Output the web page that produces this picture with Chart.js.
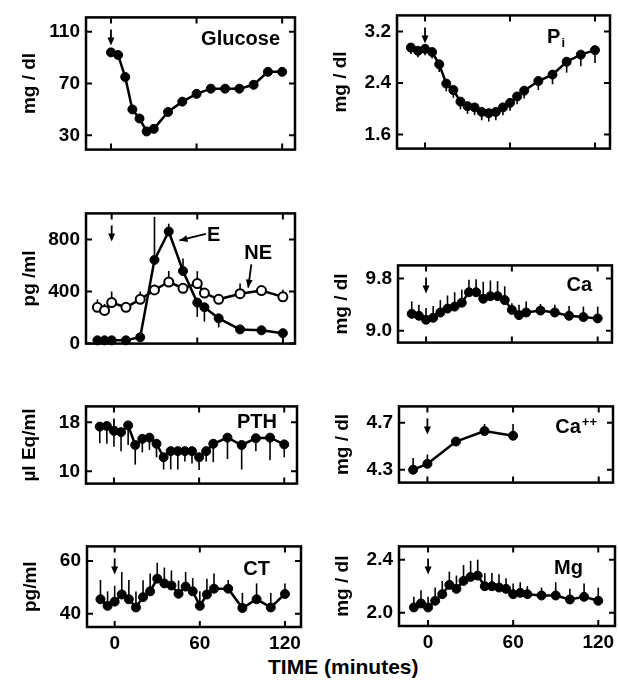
<!DOCTYPE html>
<html>
<head>
<meta charset="utf-8">
<title>Plasma responses</title>
<script src="https://cdn.jsdelivr.net/npm/chart.js@4.4.1/dist/chart.umd.min.js"></script>
<style>
  body { margin: 0; background: #fff; }
  #wrap { position: relative; width: 618px; height: 685px; overflow: hidden; }
  #wrap canvas { position: absolute; }
  #timeLabel { position: absolute; left: 268px; top: 655px; font: bold 21px "Liberation Sans", sans-serif; color: #000; white-space: nowrap; }
</style>
</head>
<body>
<div id="wrap">
  <div id="timeLabel">TIME (minutes)</div>
</div>
<script>
// sampling times (minutes)
const timeFull = [-10, -5, 0, 5, 10, 15, 20, 25, 30, 35, 40, 45, 50, 55, 60, 65, 70, 80, 90, 100, 110, 120];
const timeGlucose = [0, 5, 10, 15, 20, 25, 30, 40, 50, 60, 70, 80, 90, 100, 110, 120];
const timeCatechol = [-10, -5, 0, 10, 20, 30, 40, 50, 60, 65, 75, 90, 105, 120];
const timeCaIon = [-10, 0, 20, 40, 60];
const xTicks = [0, 60, 120];

// means and error bars (signed: + up, - down)
const glucose = [94, 92, 75, 50, 43, 33, 35, 48, 56, 62, 66, 66, 66, 69, 79, 79];
const glucoseErr = [0, 0, -2, -2, -2, -3, -3, -3, -2, -2, -2, -2, -3, -3, -2, -2];
const glucoseTicks = [30, 70, 110];

const pi = [2.95, 2.90, 2.93, 2.88, 2.69, 2.39, 2.29, 2.11, 2.04, 2.02, 1.95, 1.93, 1.95, 2.02, 2.09, 2.19, 2.28, 2.43, 2.53, 2.73, 2.84, 2.91];
const piErr = [-0.1, -0.1, -0.1, -0.1, -0.12, -0.12, -0.12, -0.12, -0.12, -0.12, -0.13, -0.13, -0.13, -0.12, -0.12, -0.12, -0.12, -0.14, -0.15, -0.17, -0.18, -0.2];
const piTicks = [1.6, 2.4, 3.2];

const epi = [25, 25, 25, 25, 49, 643, 861, 558, 315, 279, 194, 109, 102, 80];
const epiErr = [0, 0, 0, 0, 0, 330, 60, 95, -110, -110, -70, 0, 0, -70];
const norepi = [279, 255, 315, 279, 340, 412, 473, 425, 461, 388, 340, 383, 407, 359];
const norepiErr = [60, 50, 85, 0, 60, 40, 85, 0, 95, 0, 0, 78, 0, 54];
const catecholTicks = [0, 400, 800];

const ca = [9.26, 9.23, 9.17, 9.20, 9.28, 9.34, 9.37, 9.43, 9.59, 9.59, 9.49, 9.53, 9.53, 9.47, 9.32, 9.24, 9.28, 9.31, 9.28, 9.23, 9.21, 9.19];
const caErr = [0.19, 0.17, 0.18, 0.18, 0.19, 0.2, 0.22, 0.2, 0.19, 0.2, 0.26, 0.24, 0.23, 0.21, 0.1, 0.16, 0.17, 0.1, 0.12, 0.15, 0.16, 0.18];
const caTicks = [9.0, 9.8];

const pth = [17.3, 17.4, 16.6, 16.4, 17.5, 14.3, 15.3, 15.5, 14.5, 12.3, 13.3, 13.3, 13.3, 13.3, 12.3, 13.3, 14.5, 15.5, 14.3, 15.4, 15.5, 14.4];
const pthErr = [-2.7, -2.9, -2.6, -3.1, -3.2, -3.2, -2.2, -2, -2.2, -2, -3, -3, -1.7, -2, -2.1, -1.7, -3, -3.5, -4, -2.1, -3.7, -2.1];
const pthTicks = [10, 18];

const caIon = [4.30, 4.35, 4.54, 4.63, 4.59];
const caIonErr = [0.1, 0.08, 0.02, 0.06, 0.1];
const caIonTicks = [4.3, 4.7];

const ct = [45.5, 43, 44.6, 47.3, 45.5, 42.4, 46.3, 48.5, 53.3, 51.5, 50.7, 47.6, 50.3, 48.5, 43, 47.3, 49.5, 49.5, 42.2, 45.5, 42.4, 47.5];
const ctErr = [7.3, 5.5, 6, 8.5, 7.3, 6, 6.4, 6.7, 6, 6, 5.7, 5, 5.5, 5, 5.5, 6, 5.7, 3.3, 5.7, 6, 5.5, 4];
const ctTicks = [40, 60];

const mg = [2.04, 2.07, 2.04, 2.09, 2.14, 2.21, 2.18, 2.24, 2.27, 2.28, 2.20, 2.20, 2.19, 2.18, 2.14, 2.15, 2.14, 2.13, 2.13, 2.10, 2.12, 2.09];
const mgErr = [0.08, 0.1, 0.08, 0.1, 0.1, 0.1, 0.1, 0.12, 0.12, 0.12, 0.1, 0.1, 0.1, 0.08, 0.08, 0.08, 0.06, 0.06, 0.1, 0.08, 0.1, 0.1];
const mgTicks = [2.0, 2.4];

const FONT = "Liberation Sans";

const panels = [
  { box: [86, 14, 295, 153], x: [-17.5, 129], y: [19, 121], ticks: glucoseTicks, dec: 0, title: "mg / dl",
    label: { text: "Glucose", right: -15, base: 28 },
    series: [{ t: timeGlucose, v: glucose, e: glucoseErr }] },
  { box: [397, 12, 610, 152], x: [-19.8, 130.6], y: [1.38, 3.45], ticks: piTicks, dec: 1, title: "mg / dl",
    label: { text: "P", sub: "i", right: -45, base: 28 },
    series: [{ t: timeFull, v: pi, e: piErr }] },
  { box: [86, 210, 295, 347], x: [-18, 128.5], y: [0, 1000], ticks: catecholTicks, dec: 0, title: "pg /ml",
    notes: [{ text: "E", at: [71.5, 834], from: [66, 842], to: [47.5, 792] },
            { text: "NE", at: [102.7, 689], from: [97.9, 608], to: [95.7, 430] }],
    series: [{ t: timeCatechol, v: epi, e: epiErr },
             { t: timeCatechol, v: norepi, e: norepiErr, open: true }] },
  { box: [398, 262, 612, 346], x: [-19.6, 130], y: [8.82, 10.0], ticks: caTicks, dec: 1, title: "mg / dl",
    label: { text: "Ca", right: -20, base: 26 },
    series: [{ t: timeFull, v: ca, e: caErr }] },
  { box: [86, 403, 297, 487], x: [-19.7, 129], y: [8, 20.6], ticks: pthTicks, dec: 0, title: "\u00b5l Eq/ml",
    label: { text: "PTH", right: -20, base: 22 },
    series: [{ t: timeFull, v: pth, e: pthErr }] },
  { box: [399, 403, 613, 486], x: [-19.9, 130], y: [4.19, 4.84], ticks: caIonTicks, dec: 1, title: "mg / dl",
    label: { text: "Ca", sup: "++", right: -16, base: 27 },
    series: [{ t: timeCaIon, v: caIon, e: caIonErr }] },
  { box: [87, 543, 301, 627], x: [-19.5, 131.3], y: [35, 65.5], ticks: ctTicks, dec: 0, title: "pg/ml", bottom: true,
    label: { text: "CT", right: -31, base: 29 },
    series: [{ t: timeFull, v: ct, e: ctErr }] },
  { box: [399, 543, 615, 626], x: [-20.5, 131.8], y: [1.9, 2.5], ticks: mgTicks, dec: 1, title: "mg / dl", bottom: true,
    label: { text: "Mg", right: -32, base: 28 },
    series: [{ t: timeFull, v: mg, e: mgErr }] }
];

function arrowHead(ctx, x1, y1, x2, y2, len, half) {
  const ang = Math.atan2(y2 - y1, x2 - x1);
  ctx.beginPath();
  ctx.moveTo(x2, y2);
  ctx.lineTo(x2 - len * Math.cos(ang) + half * Math.sin(ang), y2 - len * Math.sin(ang) - half * Math.cos(ang));
  ctx.lineTo(x2 - len * Math.cos(ang) - half * Math.sin(ang), y2 - len * Math.sin(ang) + half * Math.cos(ang));
  ctx.closePath();
  ctx.fill();
}

const framePlugin = {
  id: "frame",
  beforeDatasetsDraw(chart) {
    const { ctx, scales: { x, y } } = chart;
    ctx.save();
    ctx.strokeStyle = "#000";
    ctx.lineWidth = 1.6;
    chart.data.datasets.forEach(ds => {
      ds.data.forEach((p, i) => {
        const e = ds.errors[i];
        if (!e) return;
        const px = x.getPixelForValue(p.x);
        ctx.beginPath();
        ctx.moveTo(px, y.getPixelForValue(p.y));
        ctx.lineTo(px, y.getPixelForValue(p.y + e));
        ctx.stroke();
      });
    });
    ctx.restore();
  },
  afterDraw(chart, args, opts) {
    const { ctx, chartArea: a, scales: { x, y } } = chart;
    ctx.save();
    ctx.strokeStyle = "#000";
    ctx.fillStyle = "#000";
    ctx.lineWidth = 2.5;
    ctx.strokeRect(a.left, a.top, a.right - a.left, a.bottom - a.top);
    // inward ticks
    ctx.lineWidth = 2;
    xTicks.forEach(v => {
      const px = x.getPixelForValue(v);
      ctx.beginPath();
      ctx.moveTo(px, a.top); ctx.lineTo(px, a.top + 6);
      ctx.moveTo(px, a.bottom); ctx.lineTo(px, a.bottom - 6);
      ctx.stroke();
    });
    opts.ticks.forEach(v => {
      const py = y.getPixelForValue(v);
      ctx.beginPath();
      ctx.moveTo(a.left, py); ctx.lineTo(a.left + 6, py);
      ctx.moveTo(a.right, py); ctx.lineTo(a.right - 6, py);
      ctx.stroke();
    });
    // arrow at time 0
    const x0 = x.getPixelForValue(0);
    ctx.lineWidth = 1.8;
    ctx.beginPath();
    ctx.moveTo(x0, a.top + 12); ctx.lineTo(x0, a.top + 24);
    ctx.stroke();
    arrowHead(ctx, x0, a.top + 12, x0, a.top + 28, 8, 3.5);
    // panel label
    if (opts.label) {
      const l = opts.label;
      ctx.font = "bold 20px '" + FONT + "'";
      const w1 = ctx.measureText(l.text).width;
      const script = l.sub || l.sup || "";
      ctx.font = "bold 13px '" + FONT + "'";
      const w2 = script ? ctx.measureText(script).width + 1 : 0;
      const sx = a.right + l.right - w1 - w2;
      const by = a.top + l.base;
      ctx.textAlign = "left";
      ctx.textBaseline = "alphabetic";
      ctx.font = "bold 20px '" + FONT + "'";
      ctx.fillText(l.text, sx, by);
      if (script) {
        ctx.font = "bold 13px '" + FONT + "'";
        ctx.fillText(script, sx + w1 + 1, by + (l.sub ? 4 : -7));
      }
    }
    // annotations with arrows
    (opts.notes || []).forEach(n => {
      ctx.font = "bold 20px '" + FONT + "'";
      ctx.textAlign = "center";
      ctx.textBaseline = "middle";
      ctx.fillText(n.text, x.getPixelForValue(n.at[0]), y.getPixelForValue(n.at[1]));
      const x1 = x.getPixelForValue(n.from[0]), y1 = y.getPixelForValue(n.from[1]);
      const x2 = x.getPixelForValue(n.to[0]), y2 = y.getPixelForValue(n.to[1]);
      ctx.lineWidth = 1.8;
      ctx.beginPath();
      ctx.moveTo(x1, y1); ctx.lineTo(x2, y2);
      ctx.stroke();
      arrowHead(ctx, x1, y1, x2, y2, 8, 3.5);
    });
    ctx.restore();
  }
};

const wrap = document.getElementById("wrap");
const tickFont = { family: FONT, size: 19, weight: "bold" };

panels.forEach(p => {
  const [L, T, R, B] = p.box;
  const cv = document.createElement("canvas");
  const w = R - L + 86 + 12;
  const h = B - T + 14 + (p.bottom ? 36 : 14);
  cv.width = w; cv.height = h;
  cv.style.left = (L - 86) + "px";
  cv.style.top = (T - 14) + "px";
  cv.style.width = w + "px";
  cv.style.height = h + "px";
  wrap.appendChild(cv);

  const datasets = p.series.map(s => ({
    data: s.t.map((t, i) => ({ x: t, y: s.v[i] })),
    errors: s.e,
    borderColor: "#000",
    borderWidth: 2.5,
    pointRadius: 4.5,
    pointBackgroundColor: s.open ? "#fff" : "#000",
    pointBorderColor: "#000",
    pointBorderWidth: s.open ? 2 : 1,
    tension: 0,
    clip: false
  }));

  new Chart(cv, {
    type: "line",
    data: { datasets },
    options: {
      responsive: false,
      animation: false,
      layout: { padding: { left: 0, top: 14, right: 12, bottom: p.bottom ? 0 : 14 } },
      plugins: {
        legend: { display: false },
        tooltip: { enabled: false },
        frame: { ticks: p.ticks, label: p.label, notes: p.notes }
      },
      scales: {
        x: {
          type: "linear",
          min: p.x[0], max: p.x[1],
          grid: { display: false, drawTicks: false },
          border: { display: false },
          afterBuildTicks: ax => { ax.ticks = xTicks.map(v => ({ value: v })); },
          ticks: { display: !!p.bottom, font: tickFont, color: "#000", padding: 5, maxRotation: 0, autoSkip: false },
          afterFit: ax => { ax.height = p.bottom ? 36 : 0; }
        },
        y: {
          min: p.y[0], max: p.y[1],
          grid: { display: false, drawTicks: false },
          border: { display: false },
          afterBuildTicks: ax => { ax.ticks = p.ticks.map(v => ({ value: v })); },
          ticks: { font: tickFont, color: "#000", padding: 6, autoSkip: false, callback: v => Number(v).toFixed(p.dec) },
          title: { display: true, text: p.title, font: tickFont, color: "#000", padding: { top: 18, bottom: 0 } },
          afterFit: ax => { ax.width = 86; }
        }
      }
    },
    plugins: [framePlugin]
  });
});
</script>
</body>
</html>
